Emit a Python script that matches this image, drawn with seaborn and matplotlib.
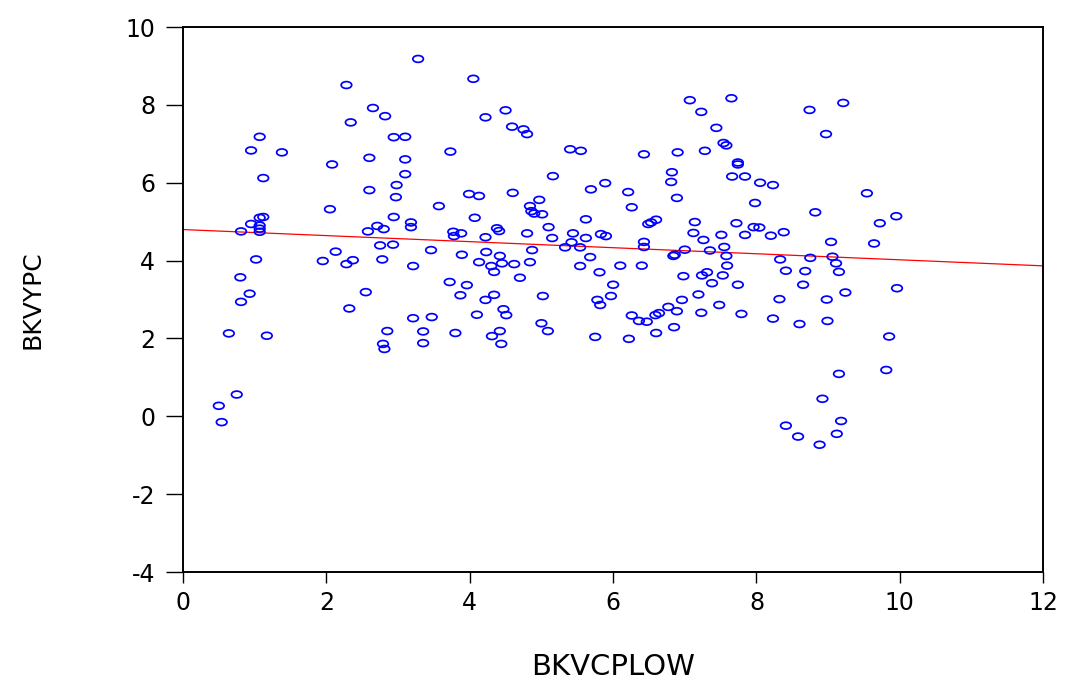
import numpy as np
import pandas as pd
import matplotlib
matplotlib.use("Agg")
import matplotlib.pyplot as plt
from matplotlib.markers import MarkerStyle
from matplotlib.transforms import Affine2D
import seaborn as sns

bkvcplow = [
    0.50, 0.54, 0.64, 0.75, 0.80, 0.81, 0.81, 0.93, 0.95, 0.95, 1.02, 1.07, 1.07, 1.12, 1.07, 1.07, 1.07, 1.12, 1.17, 1.38,
    1.95, 2.05, 2.08, 2.13, 2.28, 2.28, 2.32, 2.34, 2.37, 2.55, 2.58, 2.60, 2.60, 2.65, 2.71, 2.75, 2.78, 2.80, 2.79, 2.81,
    2.82, 2.85, 2.93, 2.94, 2.94, 2.98, 2.97, 3.10, 3.10, 3.10, 3.18, 3.18, 3.21, 3.21, 3.28, 3.35, 3.35, 3.46, 3.47,
    3.57, 3.72, 3.73, 3.77, 3.78, 3.80, 3.87, 3.88, 3.89, 3.96, 3.99, 4.05, 4.07, 4.10, 4.13, 4.13, 4.22, 4.22, 4.23, 4.22,
    4.30, 4.31, 4.34, 4.34, 4.38, 4.41, 4.42, 4.42, 4.44, 4.45, 4.47, 4.50, 4.51, 4.59, 4.60, 4.62, 4.70, 4.75, 4.80, 4.80,
    4.84, 4.84, 4.86, 4.87, 4.90, 4.97, 5.00, 5.01, 5.02, 5.09, 5.10, 5.15, 5.16,
    5.33, 5.40, 5.42, 5.44, 5.54, 5.54, 5.55, 5.62, 5.62, 5.68, 5.69, 5.75, 5.78, 5.81, 5.82, 5.83, 5.89, 5.90, 5.97, 6.00,
    6.10, 6.21, 6.22, 6.26, 6.26, 6.36, 6.40, 6.43, 6.43, 6.43, 6.47, 6.49,
    6.53, 6.59, 6.60, 6.60, 6.64, 6.77, 6.81, 6.82, 6.84, 6.86, 6.85, 6.89, 6.89, 6.90, 6.96, 6.98, 7.00, 7.07, 7.12, 7.14,
    7.19, 7.23, 7.23, 7.24, 7.26, 7.28, 7.31, 7.35, 7.38, 7.44, 7.48, 7.51, 7.53, 7.54, 7.55, 7.58, 7.58, 7.59, 7.65, 7.66,
    7.72, 7.74, 7.74, 7.74, 7.79, 7.84, 7.84, 7.96, 7.98, 8.04, 8.05, 8.20, 8.23, 8.23, 8.32, 8.33, 8.38, 8.41, 8.41,
    8.58, 8.60, 8.65, 8.68, 8.74, 8.75, 8.82, 8.88, 8.92, 8.97, 8.98, 8.99, 9.04, 9.06, 9.11, 9.12, 9.15, 9.15, 9.18, 9.21,
    9.24, 9.54, 9.64, 9.72, 9.81, 9.85, 9.95, 9.96,
]
bkvypc = [
    0.27, -0.15, 2.13, 0.56, 3.57, 2.94, 4.75, 3.15, 6.83, 4.94, 4.03, 7.18, 5.10, 5.12, 4.90, 4.82, 4.74, 6.12, 2.07, 6.78,
    3.99, 5.32, 6.47, 4.23, 8.51, 3.91, 2.77, 7.55, 4.01, 3.19, 4.75, 6.64, 5.81, 7.92, 4.89, 4.39, 4.03, 4.81, 1.86, 1.73,
    7.71, 2.19, 4.41, 5.12, 7.17, 5.94, 5.63, 7.18, 6.60, 6.22, 4.98, 4.86, 3.86, 2.52, 9.18, 2.18, 1.88, 4.27, 2.55,
    5.40, 3.45, 6.80, 4.74, 4.63, 2.14, 3.11, 4.70, 4.15, 3.37, 5.71, 8.67, 5.10, 2.61, 5.66, 3.96, 7.68, 4.60, 4.22, 2.99,
    3.86, 2.06, 3.71, 3.12, 4.83, 4.76, 4.12, 2.19, 1.86, 3.93, 2.75, 7.86, 2.60, 7.44, 5.74, 3.91, 3.56, 7.37, 7.25, 4.70,
    5.40, 3.96, 5.27, 4.27, 5.21, 5.56, 2.39, 5.19, 3.09, 2.19, 4.86, 4.58, 6.17,
    4.34, 6.86, 4.47, 4.70, 4.34, 3.86, 6.82, 5.06, 4.58, 4.09, 5.83, 2.04, 2.99, 3.70, 2.86, 4.68, 5.99, 4.63, 3.09, 3.38,
    3.87, 5.76, 1.99, 5.37, 2.59, 2.45, 3.87, 6.73, 4.48, 4.35, 2.43, 4.94,
    4.98, 2.60, 5.05, 2.14, 2.65, 2.81, 6.02, 6.27, 4.12, 4.15, 2.29, 5.61, 2.70, 6.78, 2.99, 3.60, 4.28, 8.12, 4.71, 4.99,
    3.13, 7.82, 2.66, 3.62, 4.53, 6.82, 3.70, 4.26, 3.42, 7.41, 2.86, 4.66, 3.62, 7.02, 4.35, 6.96, 4.12, 3.87, 8.17, 6.16,
    4.96, 6.52, 6.47, 3.38, 2.63, 6.16, 4.66, 4.86, 5.48, 4.85, 6.00, 4.64, 5.94, 2.51, 3.01, 4.03, 4.73, 3.74, -0.24,
    -0.52, 2.37, 3.38, 3.73, 7.87, 4.07, 5.24, -0.73, 0.45, 7.25, 3.00, 2.45, 4.48, 4.10, 3.93, -0.45, 3.71, 1.09, -0.12, 8.05,
    3.18, 5.73, 4.44, 4.96, 1.19, 2.05, 5.14, 3.29,
]
x_ticks = [0, 2, 4, 6, 8, 10, 12]
y_ticks = [-4, -2, 0, 2, 4, 6, 8, 10]

df = pd.DataFrame({"BKVCPLOW": bkvcplow, "BKVYPC": bkvypc})

sns.set_style("white")
plt.rcParams["font.family"] = ["DejaVu Sans"]
plt.rcParams["axes.unicode_minus"] = False

fig = plt.figure(figsize=(10.7, 6.84), dpi=100)
ax = fig.add_axes([0.171, 0.1637, 0.804, 0.7968])
ax.set_xlim(0, 12)
ax.set_ylim(-4, 10)

ell = MarkerStyle("o", transform=Affine2D().scale(1.55, 1.0))
sns.scatterplot(data=df, x="BKVCPLOW", y="BKVYPC", ax=ax, marker=ell, s=24,
                facecolor="none", edgecolor="#0000ff", linewidth=1.25, zorder=3)
sns.regplot(data=df, x="BKVCPLOW", y="BKVYPC", ax=ax, scatter=False, ci=None,
            truncate=False, line_kws={"color": "#ff0000", "linewidth": 0.9, "zorder": 2})
ax.set_xlim(0, 12)
ax.set_ylim(-4, 10)

ax.set_xticks(x_ticks)
ax.set_yticks(y_ticks)
ax.tick_params(axis="x", direction="out", length=8, width=1.0, pad=6, labelsize=17,
               colors="black", labelcolor="black", bottom=True)
ax.tick_params(axis="y", direction="out", length=12, width=1.0, pad=8, labelsize=17,
               colors="black", labelcolor="black", left=True)
for sp in ax.spines.values():
    sp.set_visible(True)
    sp.set_color("black")
    sp.set_linewidth(1.4)

ax.set_xlabel("BKVCPLOW", fontsize=21, labelpad=27, color="black")
ax.set_ylabel("BKVYPC", fontsize=18, labelpad=58, color="black")
ax.grid(False)

fig.savefig("out.png", dpi=100)
